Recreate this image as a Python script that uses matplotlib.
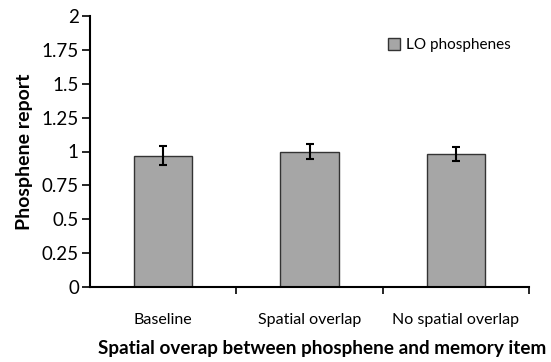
import matplotlib
matplotlib.use("Agg")
import matplotlib.pyplot as plt
import numpy as np

categories = ["Baseline", "Spatial overlap", "No spatial overlap"]
values = [0.97, 1.00, 0.98]
errors = [0.07, 0.055, 0.053]
yticks = [0, 0.25, 0.5, 0.75, 1, 1.25, 1.5, 1.75, 2]
ytick_labels = ["0", "0.25", "0.5", "0.75", "1", "1.25", "1.5", "1.75", "2"]

plt.rcParams['font.family'] = ['Lato', 'DejaVu Sans']

fig = plt.figure(figsize=(5.51, 3.62), dpi=100)
ax = fig.add_axes([90/551, 75/362, 439/551, 271/362])

x = np.arange(len(categories))
ax.bar(x, values, width=0.4, color="#a6a6a6", edgecolor="#333333", linewidth=1.0,
       label="LO phosphenes", zorder=2)
ax.errorbar(x, values, yerr=errors, fmt="none", ecolor="black", elinewidth=1.5,
            capsize=3, capthick=1.5, zorder=3)

ax.set_xlim(-0.5, 2.5)
ax.set_ylim(0, 2)
ax.set_yticks(yticks)
ax.set_yticklabels(ytick_labels, fontsize=13.5)
ax.set_xticks(x)
ax.set_xticklabels(categories, fontsize=11.5)
ax.set_xticks([0.5, 1.5, 2.5], minor=True)
ax.tick_params(axis='x', which='major', length=0, pad=19)
ax.tick_params(axis='x', which='minor', length=5, width=1.2, direction='out')
ax.tick_params(axis='y', length=6, width=1.2, direction='out', pad=2)

for s in ["top", "right"]:
    ax.spines[s].set_visible(False)
for s in ["left", "bottom"]:
    ax.spines[s].set_linewidth(1.5)

ax.set_ylabel("Phosphene report", fontsize=14, fontweight="bold")
ax.yaxis.set_label_coords(-0.13, 0.5)
ax.set_xlabel("Spatial overap between phosphene and memory item", fontsize=13.6,
              fontweight="bold")
ax.xaxis.set_label_coords(0.528, -0.195)

ax.legend(loc="upper right", bbox_to_anchor=(0.99, 0.97), frameon=False, fontsize=11,
          handlelength=0.8, handleheight=0.8, handletextpad=0.4)

fig.savefig("out.png", dpi=100)
